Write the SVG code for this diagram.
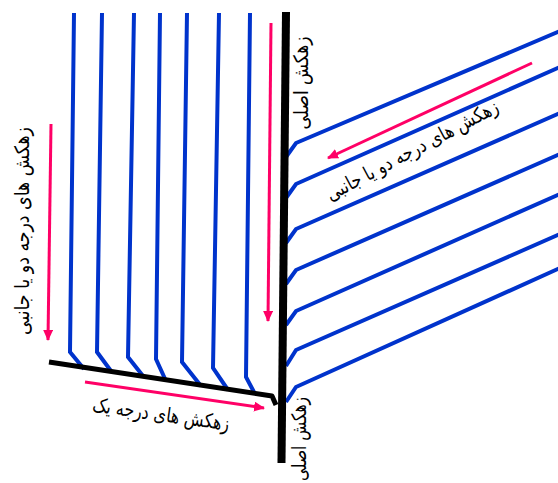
<svg xmlns="http://www.w3.org/2000/svg" width="558" height="483" viewBox="0 0 558 483">
<style>
.blue{fill:none;stroke:#0033cc;stroke-width:4;stroke-linejoin:miter}
.main{fill:none;stroke:#000;stroke-width:8}
.prim{fill:none;stroke:#000;stroke-width:5;stroke-linejoin:round}
.arr{fill:none;stroke:#ff0066;stroke-width:3}
.lbl{font-family:"DejaVu Sans",sans-serif;font-size:20px;fill:#000;text-anchor:middle}
</style>
<defs>
<marker id="ah" markerUnits="userSpaceOnUse" markerWidth="12" markerHeight="10" refX="10" refY="5" orient="auto">
<path d="M0,0 L11,5 L0,10 Z" fill="#ff0066"/>
</marker>
</defs>
<rect width="558" height="483" fill="#fff"/>
<g id="left-laterals">
<polyline class="blue" points="74,13 70,352 84,369"/>
<polyline class="blue" points="102,13 97,352 111,371"/>
<polyline class="blue" points="134,13 128,357 143,376"/>
<polyline class="blue" points="160,13 156,359 166,381"/>
<polyline class="blue" points="187,13 182,362 201,386"/>
<polyline class="blue" points="219,13 213,368 228,390"/>
<polyline class="blue" points="250,13 246,377 255,394"/>
</g>
<g id="right-laterals">
<polyline class="blue" points="286,157 296,143 560,31"/>
<polyline class="blue" points="286,198 296,184 560,67"/>
<polyline class="blue" points="286,243 296,229 560,113"/>
<polyline class="blue" points="286,284 296,270 560,154"/>
<polyline class="blue" points="286,325 296,311 560,194"/>
<polyline class="blue" points="286,366 296,350 560,234"/>
<polyline class="blue" points="286,402 296,387 560,268"/>
</g>
<g id="primary-drain">
<polyline class="prim" points="49,362 272,396 276,405"/>
</g>
<g id="main-drain">
<line class="main" x1="286" y1="12" x2="281.5" y2="463"/>
</g>
<g id="connectors">
<line class="arr" x1="51" y1="124" x2="48" y2="340" marker-end="url(#ah)"/>
<line class="arr" x1="271" y1="23" x2="268" y2="321" marker-end="url(#ah)"/>
<line class="arr" x1="85" y1="382" x2="264" y2="408" marker-end="url(#ah)"/>
<line class="arr" x1="532" y1="63" x2="328" y2="158" marker-end="url(#ah)"/>
</g>
<g id="labels">
<text class="lbl" transform="translate(22,231) rotate(-90)" y="7" textLength="208" lengthAdjust="spacingAndGlyphs">زهکش های درجه دو یا جانبی</text>
<text class="lbl" transform="translate(161,414) rotate(8)" y="7" textLength="138" lengthAdjust="spacingAndGlyphs">زهکش های درجه یک</text>
<text class="lbl" transform="translate(412,150) rotate(-28)" y="7" textLength="192" lengthAdjust="spacingAndGlyphs">زهکش های درجه دو یا جانبی</text>
<text class="lbl" transform="translate(301,83) rotate(-90)" y="7" textLength="93" lengthAdjust="spacingAndGlyphs">زهکش اصلی</text>
<text class="lbl" transform="translate(299,439) rotate(-90)" y="7" textLength="84" lengthAdjust="spacingAndGlyphs">زهکش اصلی</text>
</g>
</svg>
